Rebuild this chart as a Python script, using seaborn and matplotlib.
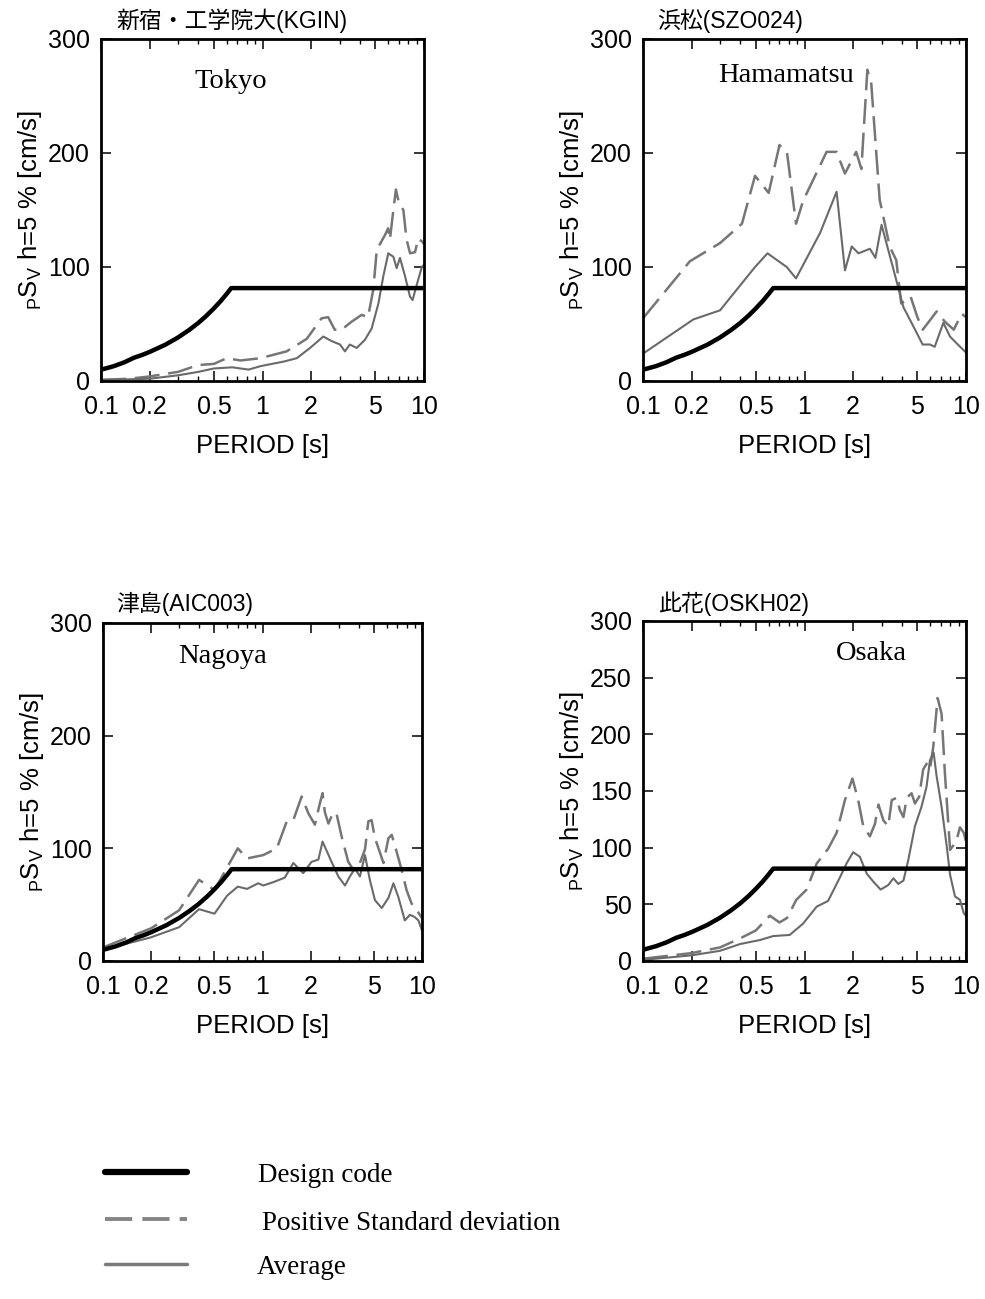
import matplotlib
matplotlib.use("Agg")
import matplotlib.pyplot as plt
from matplotlib.lines import Line2D
from matplotlib.ticker import FixedLocator, FixedFormatter, NullFormatter
import seaborn as sns

# ---------------------------------------------------------------- data
# Design-code pseudo velocity response spectrum (h = 5 %)
design_T = [0.1, 0.12, 0.14, 0.16, 0.18, 0.2, 0.25, 0.3, 0.35, 0.4, 0.45, 0.5, 0.55, 0.6, 0.64, 10]
design_v = [9.9, 13.0, 16.5, 20.4, 22.9, 25.5, 31.8, 38.2, 44.6, 50.9, 57.3, 63.7, 70.0, 76.4, 81.5, 81.5]

# Tokyo  新宿・工学院大(KGIN)
tokyo_avg_T = [0.1, 0.15, 0.2, 0.3, 0.4, 0.5, 0.65, 0.73, 0.82, 0.97, 1.35, 1.63, 1.97, 2.38, 2.68,
               3.02, 3.24, 3.47, 3.83, 4.3, 4.74, 5.22, 5.6, 6.01, 6.46, 6.77, 7.1, 7.63, 8.19, 8.5,
               9.0, 9.7, 10]
tokyo_avg_v = [1, 1.5, 2, 5, 8, 11, 12, 11, 10, 13, 17, 20, 29, 39, 35,
               32, 26, 32, 29, 36, 46, 68, 92, 112, 109, 99, 108, 92, 74, 71,
               84, 100, 102]
tokyo_sd_T = [0.1, 0.15, 0.2, 0.3, 0.4, 0.5, 0.6, 0.73, 0.97, 1.41, 1.88, 2.32, 2.55, 2.8, 3.09,
              3.56, 4.11, 4.5, 4.85, 5.1, 5.73, 6.0, 6.15, 6.46, 6.7, 7.0, 7.45, 7.8, 8.2, 8.8,
              9.2, 9.8, 10]
tokyo_sd_v = [1, 2, 4, 8, 14, 15, 20, 18, 20, 26, 37, 55, 56, 45, 45,
              52, 58, 56, 80, 115, 128, 134, 124, 150, 168, 156, 150, 124, 112, 113,
              125, 122, 120]

# Hamamatsu  浜松(SZO024)
hama_avg_T = [0.1, 0.205, 0.3, 0.494, 0.59, 0.776, 0.886, 1.25, 1.58, 1.78, 1.96, 2.16, 2.54, 2.75,
              3.0, 3.63, 4.09, 4.72, 5.39, 5.99, 6.4, 7.24, 7.96, 8.9, 10]
hama_avg_v = [24, 54, 62, 100, 112, 100, 90, 130, 166, 97, 118, 112, 116, 108,
              137, 93, 65, 48, 32, 32, 30, 51, 39, 32, 25]
hama_sd_T = [0.1, 0.195, 0.3, 0.41, 0.494, 0.6, 0.7, 0.78, 0.886, 0.98, 1.37, 1.58, 1.78, 2.09,
             2.25, 2.45, 2.59, 2.92, 3.37, 3.7, 3.97, 4.54, 5.0, 5.4, 6.58, 7.4, 8.4, 9.4, 10]
hama_sd_v = [55, 105, 121, 138, 180, 165, 207, 200, 138, 158, 201, 201, 182, 201,
             186, 273, 261, 159, 118, 106, 68, 74, 56, 45, 61, 52, 45, 59, 56]

# Nagoya  津島(AIC003)
nago_avg_T = [0.1, 0.2, 0.3, 0.4, 0.5, 0.6, 0.7, 0.8, 0.94, 1.01, 1.17, 1.38, 1.56, 1.8, 2.03,
              2.24, 2.38, 2.71, 2.99, 3.29, 3.53, 3.8, 4.08, 4.39, 4.71, 5.07, 5.59, 6.16, 6.62,
              7.1, 7.8, 8.4, 9.0, 9.5, 10]
nago_avg_v = [10, 21, 30, 46, 42, 58, 66, 64, 69, 67, 70, 74, 87, 78, 88,
              90, 106, 88, 75, 67, 75, 82, 75, 94, 72, 54, 47, 56, 69,
              57, 36, 41, 39, 36, 27]
nago_sd_T = [0.1, 0.2, 0.3, 0.4, 0.5, 0.6, 0.7, 0.8, 1.01, 1.23, 1.42, 1.56, 1.76, 1.94, 2.13,
             2.29, 2.38, 2.46, 2.59, 2.78, 2.92, 3.14, 3.29, 3.45, 3.71, 4.08, 4.39, 4.61, 4.83,
             5.07, 5.46, 5.73, 6.16, 6.46, 6.93, 7.45, 8.0, 8.6, 9.3, 10]
nago_sd_v = [12, 29, 45, 72, 63, 83, 100, 91, 94, 100, 124, 125, 146, 131, 121,
             140, 149, 132, 122, 132, 130, 110, 99, 88, 81, 87, 99, 124, 125,
             109, 96, 87, 109, 112, 97, 81, 63, 51, 45, 38]

# Osaka  此花(OSKH02)
osaka_avg_T = [0.1, 0.2, 0.3, 0.4, 0.53, 0.64, 0.81, 0.98, 1.19, 1.4, 1.66, 1.82, 2.0, 2.2, 2.43,
               2.67, 2.96, 3.3, 3.55, 3.81, 4.1, 4.39, 4.83, 5.3, 5.7, 5.98, 6.3, 6.58, 7.06,
               7.6, 7.97, 8.55, 9.17, 9.7, 10]
osaka_avg_v = [1, 5, 9, 15, 18.5, 22, 23, 33, 48, 53, 74, 86, 96, 92, 77,
               70, 63, 67, 73, 68, 71, 89, 119, 136, 154, 177, 184, 163, 136,
               101, 76, 57, 54, 42, 40]
osaka_sd_T = [0.1, 0.2, 0.3, 0.4, 0.5, 0.61, 0.7, 0.78, 0.89, 1.03, 1.19, 1.4, 1.58, 1.78, 1.98,
              2.15, 2.31, 2.54, 2.73, 2.87, 3.08, 3.3, 3.47, 3.72, 3.9, 4.1, 4.3, 4.6, 4.83,
              5.13, 5.43, 5.7, 5.98, 6.27, 6.67, 7.06, 7.4, 7.97, 8.35, 8.76, 9.17, 9.7, 10]
osaka_sd_v = [2, 7, 12, 20, 27, 40, 34, 38, 54, 63, 86, 99, 113, 142, 161,
              142, 119, 110, 121, 138, 124, 119, 142, 144, 133, 127, 144, 148, 139,
              145, 169, 174, 169, 189, 232, 218, 166, 98, 102, 107, 118, 113, 105]

station_titles = ["新宿・工学院大(KGIN)", "浜松(SZO024)", "津島(AIC003)", "此花(OSKH02)"]
city_names = ["Tokyo", "Hamamatsu", "Nagoya", "Osaka"]
yticks_std = [0, 100, 200, 300]
yticks_osaka = [0, 50, 100, 150, 200, 250, 300]
x_major = [0.1, 0.2, 0.5, 1, 2, 5, 10]
x_major_labels = ["0.1", "0.2", "0.5", "1", "2", "5", "10"]
x_minor = [0.3, 0.4, 0.6, 0.7, 0.8, 0.9, 3, 4, 6, 7, 8, 9]
legend_labels = ["Design code", "Positive Standard deviation", "Average"]

# ---------------------------------------------------------------- style
sns.set_theme(style="ticks", rc={"axes.edgecolor": "black", "xtick.color": "black",
                                 "ytick.color": "black", "text.color": "black",
                                 "axes.labelcolor": "black"})
plt.rcParams["font.family"] = ["Liberation Sans", "Noto Sans CJK JP"]
plt.rcParams["mathtext.fontset"] = "custom"
plt.rcParams["mathtext.rm"] = "Liberation Sans"
plt.rcParams["mathtext.it"] = "Liberation Sans:italic"
plt.rcParams["mathtext.bf"] = "Liberation Sans:bold"

AVG_COLOR = "#6a6a6a"
SD_COLOR = "#767676"
SD_DASH = (0, (10, 3.5))

W, H = 985, 1299
fig = plt.figure(figsize=(W / 100, H / 100), dpi=100)


def axes_px(left, top, right, bottom):
    return fig.add_axes([left / W, 1 - bottom / H, (right - left) / W, (bottom - top) / H])


boxes = [(101, 39, 424, 381), (643, 39, 966, 381), (103, 623, 422, 961), (643, 621, 966, 961)]
series = [(tokyo_avg_T, tokyo_avg_v, tokyo_sd_T, tokyo_sd_v),
          (hama_avg_T, hama_avg_v, hama_sd_T, hama_sd_v),
          (nago_avg_T, nago_avg_v, nago_sd_T, nago_sd_v),
          (osaka_avg_T, osaka_avg_v, osaka_sd_T, osaka_sd_v)]
title_pos = [(116, 21), (657, 21), (116, 604), (659, 604)]
name_pos = [(231, 88), (786, 82), (223, 663), (871, 660)]

for i, (box, (aT, av, sT, sv)) in enumerate(zip(boxes, series)):
    ax = axes_px(*box)
    ax.set_xscale("log")
    sns.lineplot(x=sT, y=sv, ax=ax, color=SD_COLOR, lw=1.8, linestyle=SD_DASH,
                 estimator=None, sort=False)
    sns.lineplot(x=aT, y=av, ax=ax, color=AVG_COLOR, lw=1.5, estimator=None, sort=False)
    sns.lineplot(x=design_T, y=design_v, ax=ax, color="black", lw=3.2,
                 estimator=None, sort=False)

    ax.set_xlim(0.1, 10)
    ax.set_ylim(0, 300)
    ax.xaxis.set_major_locator(FixedLocator(x_major))
    ax.xaxis.set_major_formatter(FixedFormatter(x_major_labels))
    ax.xaxis.set_minor_locator(FixedLocator(x_minor))
    ax.xaxis.set_minor_formatter(NullFormatter())
    ax.set_yticks(yticks_osaka if i == 3 else yticks_std)
    ax.tick_params(which="both", direction="in", top=True, right=True, color="black")
    ax.tick_params(which="major", length=7, width=1.1, labelsize=18)
    ax.tick_params(which="minor", length=3.5, width=1.0)
    ax.tick_params(axis="x", which="major", pad=10)
    ax.tick_params(axis="y", pad=8)
    for s in ax.spines.values():
        s.set_linewidth(2)
        s.set_color("black")

    ax.set_xlabel("PERIOD [s]", fontsize=18.5, labelpad=11)
    ax.set_ylabel(r"${}_{\mathrm{P}}\mathrm{S}_{\mathrm{V}}$ h=5 % [cm/s]", fontsize=18.5, labelpad=3)

    tx, ty = title_pos[i]
    fig.text(tx / W, 1 - ty / H, station_titles[i], fontsize=16.5, ha="left", va="center")
    nx, ny = name_pos[i]
    fig.text(nx / W, 1 - ny / H, city_names[i], fontsize=20.5, family="Liberation Serif",
             ha="center", va="baseline")

# ---------------------------------------------------------------- key
key_rows = [1172, 1219, 1264]
key_styles = [dict(color="black", lw=4.5, linestyle="-"),
              dict(color="#858585", lw=2.8, linestyle=(0, (7, 2.6))),
              dict(color="#7a7a7a", lw=2.5, linestyle="-")]
key_text_x = [258, 262, 257]
for y, st, lab, tx in zip(key_rows, key_styles, legend_labels, key_text_x):
    fig.add_artist(Line2D([105 / W, 187 / W], [1 - y / H, 1 - y / H], **st))
    fig.text(tx / W, 1 - (y + 4) / H, lab, fontsize=19.5, family="Liberation Serif",
             ha="left", va="center")

fig.savefig("out.png", dpi=100)
